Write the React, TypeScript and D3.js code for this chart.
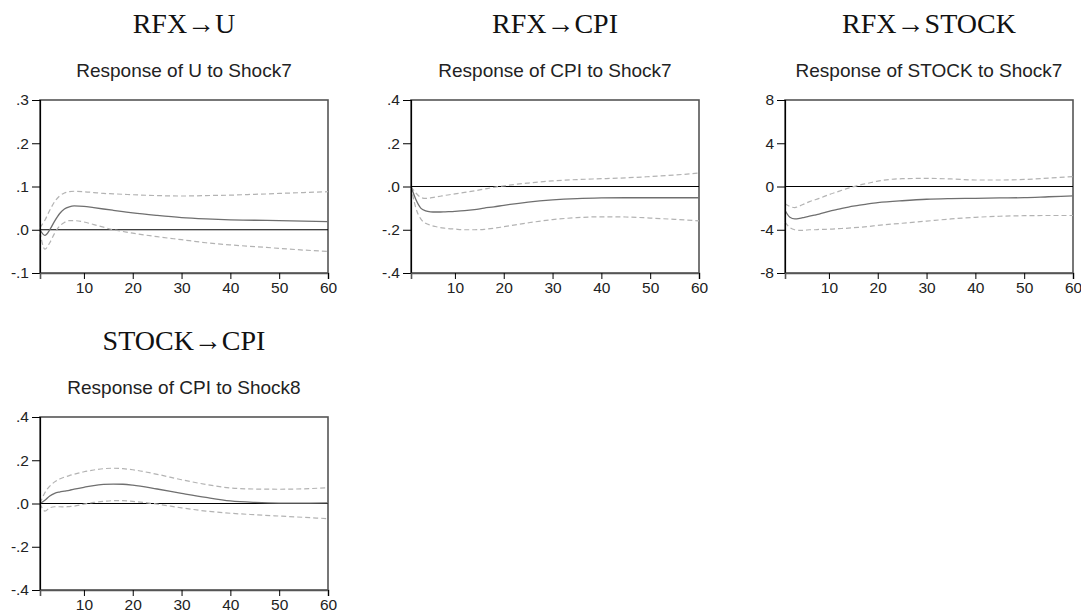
import React, { useEffect, useRef } from "react";
import * as d3 from "d3";

const periods = [1, 2, 3, 4, 5, 6, 7, 8, 10, 12, 14, 16, 18, 20, 25, 30, 35, 40, 45, 50, 55, 60];

// RFX -> U
const uMid = [0, -0.013, 0.0, 0.02, 0.037, 0.048, 0.053, 0.055, 0.054, 0.051, 0.048, 0.045, 0.042, 0.039, 0.033, 0.028, 0.025, 0.023, 0.022, 0.021, 0.02, 0.019];
const uUpper = [0.005, 0.022, 0.045, 0.065, 0.078, 0.085, 0.088, 0.089, 0.088, 0.086, 0.084, 0.083, 0.082, 0.081, 0.079, 0.078, 0.079, 0.08, 0.082, 0.084, 0.086, 0.088];
const uLower = [-0.005, -0.045, -0.03, -0.008, 0.008, 0.017, 0.021, 0.021, 0.018, 0.012, 0.006, 0.0, -0.004, -0.008, -0.016, -0.023, -0.03, -0.035, -0.039, -0.043, -0.047, -0.05];

// RFX -> CPI
const cpiMid = [0, -0.06, -0.1, -0.113, -0.117, -0.118, -0.118, -0.117, -0.115, -0.112, -0.107, -0.1, -0.094, -0.087, -0.072, -0.062, -0.056, -0.053, -0.052, -0.052, -0.052, -0.052];
const cpiUpper = [0, -0.03, -0.05, -0.055, -0.053, -0.049, -0.045, -0.041, -0.034, -0.027, -0.02, -0.012, -0.004, 0.003, 0.016, 0.026, 0.032, 0.036, 0.04, 0.046, 0.053, 0.062];
const cpiLower = [0, -0.1, -0.15, -0.17, -0.179, -0.185, -0.19, -0.193, -0.197, -0.2, -0.2, -0.198, -0.193, -0.186, -0.168, -0.153, -0.144, -0.14, -0.141, -0.146, -0.152, -0.159];

// RFX -> STOCK
const stockMid = [-2.2, -2.85, -3.0, -2.95, -2.85, -2.75, -2.65, -2.55, -2.3, -2.1, -1.9, -1.75, -1.6, -1.5, -1.32, -1.18, -1.12, -1.09, -1.06, -1.03, -0.95, -0.87];
const stockUpper = [-1.6, -1.85, -1.95, -1.8, -1.6, -1.4, -1.25, -1.1, -0.75, -0.45, -0.15, 0.1, 0.3, 0.5, 0.72, 0.75, 0.7, 0.6, 0.6, 0.65, 0.78, 0.92];
const stockLower = [-3.3, -3.8, -4.0, -4.05, -4.05, -4.0, -4.0, -3.97, -3.95, -3.9, -3.85, -3.78, -3.7, -3.6, -3.4, -3.2, -3.0, -2.85, -2.75, -2.7, -2.68, -2.68];

// STOCK -> CPI
const scMid = [0, 0.015, 0.035, 0.047, 0.053, 0.057, 0.061, 0.066, 0.075, 0.083, 0.088, 0.09, 0.089, 0.085, 0.067, 0.047, 0.028, 0.012, 0.005, 0.002, 0.002, 0.003];
const scUpper = [0, 0.05, 0.08, 0.1, 0.113, 0.122, 0.129, 0.135, 0.147, 0.155, 0.161, 0.163, 0.161, 0.156, 0.135, 0.11, 0.088, 0.072, 0.067, 0.066, 0.068, 0.073];
const scLower = [0, -0.035, -0.02, -0.015, -0.015, -0.016, -0.014, -0.012, -0.003, 0.005, 0.01, 0.013, 0.013, 0.01, -0.003, -0.02, -0.035, -0.045, -0.052, -0.058, -0.064, -0.07];

const xTicks = [10, 20, 30, 40, 50, 60];
const smallTicks = [-0.1, 0, 0.1, 0.2, 0.3];
const cpiTicks = [-0.4, -0.2, 0, 0.2, 0.4];
const stockTicks = [-8, -4, 0, 4, 8];

const panels = [
  { title: "RFX→U", sub: "Response of U to Shock7", mid: uMid, upper: uUpper, lower: uLower, ticks: smallTicks, left: 40, top: 100, decimal: true },
  { title: "RFX→CPI", sub: "Response of CPI to Shock7", mid: cpiMid, upper: cpiUpper, lower: cpiLower, ticks: cpiTicks, left: 411, top: 100, decimal: true },
  { title: "RFX→STOCK", sub: "Response of STOCK to Shock7", mid: stockMid, upper: stockUpper, lower: stockLower, ticks: stockTicks, left: 785, top: 100, decimal: false },
  { title: "STOCK→CPI", sub: "Response of CPI to Shock8", mid: scMid, upper: scUpper, lower: scLower, ticks: cpiTicks, left: 40, top: 417, decimal: true },
];

const W = 288;
const H = 173;

const fmt = (d: number, decimal: boolean) =>
  decimal ? d.toFixed(1).replace("0.", ".") : String(d);

const App = () => {
  const svgRef = useRef<SVGSVGElement>(null);

  useEffect(() => {
    document.body.style.margin = "0";
    const svg = d3.select(svgRef.current);
    svg.selectAll("*").remove();

    panels.forEach((p) => {
      const x = d3.scaleLinear().domain([1, 60]).range([0, W]);
      const y = d3
        .scaleLinear()
        .domain([p.ticks[0], p.ticks[p.ticks.length - 1]])
        .range([H, 0]);

      const g = svg.append("g").attr("transform", `translate(${p.left}, ${p.top})`);

      svg
        .append("text")
        .attr("x", p.left + W / 2)
        .attr("y", p.top - 73)
        .attr("text-anchor", "middle")
        .attr("dominant-baseline", "middle")
        .style("font-family", "'Liberation Serif', 'DejaVu Serif', serif")
        .style("font-size", "28px")
        .style("fill", "#111")
        .text(p.title);

      svg
        .append("text")
        .attr("x", p.left + W / 2)
        .attr("y", p.top - 28)
        .attr("text-anchor", "middle")
        .attr("dominant-baseline", "middle")
        .style("font-family", "'Liberation Sans', Arial, sans-serif")
        .style("font-size", "19px")
        .style("fill", "#222")
        .text(p.sub);

      // frame
      g.append("rect")
        .attr("width", W)
        .attr("height", H)
        .attr("fill", "none")
        .attr("stroke", "#555")
        .attr("stroke-width", 1.6);

      // zero line
      g.append("line")
        .attr("x1", 0)
        .attr("x2", W)
        .attr("y1", y(0))
        .attr("y2", y(0))
        .attr("stroke", "#000")
        .attr("stroke-width", 1.2);

      const line = d3
        .line<number>()
        .x((_, i) => x(periods[i]))
        .y((d) => y(d))
        .curve(d3.curveMonotoneX);

      [p.upper, p.lower].forEach((s) => {
        g.append("path")
          .datum(s)
          .attr("fill", "none")
          .attr("stroke", "#b3b3b3")
          .attr("stroke-width", 1.2)
          .attr("stroke-dasharray", "5,3")
          .attr("d", line);
      });

      g.append("path")
        .datum(p.mid)
        .attr("fill", "none")
        .attr("stroke", "#6f6f6f")
        .attr("stroke-width", 1.3)
        .attr("d", line);

      const yAxis = g
        .append("g")
        .call(
          d3
            .axisLeft(y)
            .tickValues(p.ticks)
            .tickSize(8)
            .tickPadding(3)
            .tickFormat((d) => fmt(d as number, p.decimal))
        );
      yAxis.select(".domain").attr("stroke", "#000").attr("stroke-width", 1.2);
      yAxis.selectAll(".tick line").attr("stroke", "#000");

      const xAxis = g
        .append("g")
        .attr("transform", `translate(0, ${H})`)
        .call(d3.axisBottom(x).tickValues(xTicks).tickSize(6).tickPadding(3).tickFormat((d) => String(d)));
      xAxis.select(".domain").attr("stroke", "#555").attr("stroke-width", 1.6);
      xAxis.selectAll(".tick line").attr("stroke", "#000");

      [yAxis, xAxis].forEach((a) =>
        a
          .selectAll("text")
          .style("font-family", "'Liberation Sans', Arial, sans-serif")
          .style("font-size", "15.5px")
          .style("fill", "#222")
      );
    });
  }, []);

  return <svg ref={svgRef} width={1081} height={613} style={{ display: "block", background: "#fff" }}></svg>;
};

export default App;
